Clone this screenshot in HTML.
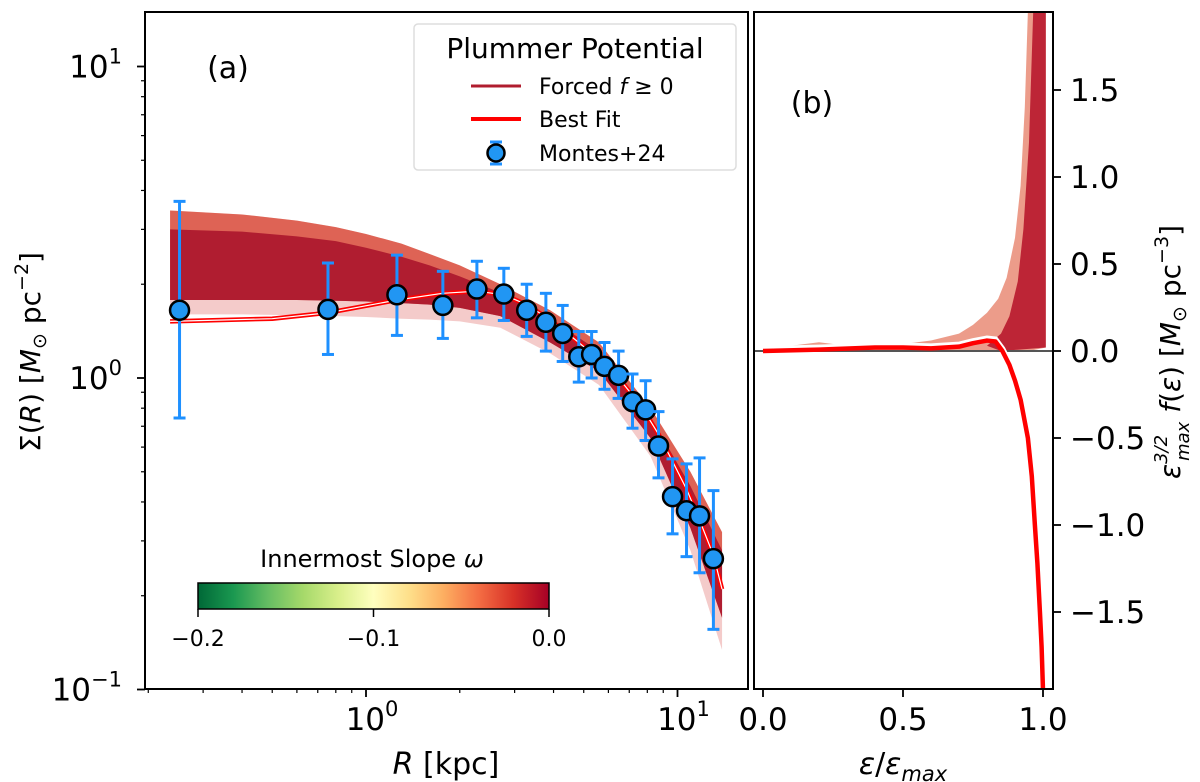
<!DOCTYPE html>
<html><head><meta charset="utf-8"><style>
html,body{margin:0;padding:0;background:#fff;}
svg{display:block;font-family:"DejaVu Sans","Liberation Sans",sans-serif;}
</style></head><body>
<svg id="chart" width="1200" height="782" viewBox="0 0 1200 782" xmlns="http://www.w3.org/2000/svg">
<defs>
<linearGradient id="cmap" x1="0" x2="1" y1="0" y2="0">
<stop offset="0" stop-color="#006837"/><stop offset="0.1" stop-color="#1a9850"/><stop offset="0.2" stop-color="#66bd63"/><stop offset="0.3" stop-color="#a6d96a"/><stop offset="0.4" stop-color="#d9ef8b"/><stop offset="0.5" stop-color="#ffffbf"/><stop offset="0.6" stop-color="#fee08b"/><stop offset="0.7" stop-color="#fdae61"/><stop offset="0.8" stop-color="#f46d43"/><stop offset="0.9" stop-color="#d73027"/><stop offset="1" stop-color="#a50026"/>
</linearGradient>
<clipPath id="clipL"><rect x="145" y="12" width="603" height="677"/></clipPath>
<clipPath id="clipR"><rect x="754" y="12" width="299" height="677"/></clipPath>
</defs>
<g id="left"></g>
<g id="right"></g>
</svg>
<script>
// ---- Panel (a) data ----
const obsR = [0.252,0.755,1.257,1.765,2.27,2.77,3.28,3.78,4.28,4.82,5.30,5.83,6.47,7.17,7.90,8.69,9.64,10.69,11.77,13.04];
const obsSigma = [1.65,1.66,1.85,1.71,1.93,1.86,1.65,1.51,1.39,1.17,1.19,1.09,1.02,0.84,0.79,0.605,0.416,0.375,0.361,0.263];
const obsUpper = [3.69,2.34,2.48,2.20,2.37,2.25,2.00,1.87,1.71,1.41,1.41,1.30,1.22,1.03,0.98,0.78,0.55,0.53,0.554,0.435];
const obsLower = [0.744,1.19,1.37,1.34,1.56,1.53,1.36,1.22,1.13,0.97,1.00,0.92,0.86,0.69,0.63,0.478,0.316,0.267,0.237,0.156];
const fitR = [0.235,0.5,0.755,1.26,1.76,2.27,2.77,3.28,3.78,4.28,4.82,5.3,5.83,6.47,7.17,7.9,8.69,9.64,10.69,11.77,13.04,13.9];
const fitSigma = [1.52,1.55,1.62,1.78,1.87,1.9,1.85,1.72,1.57,1.43,1.3,1.2,1.1,1.0,0.88,0.77,0.66,0.54,0.44,0.35,0.27,0.21];
const bandR = [0.235,0.4,0.6,0.8,1.0,1.3,1.6,2.0,2.7,3.9,5.6,8.2,11,13.9];
const bandUpper = [3.45,3.35,3.2,3.05,2.9,2.7,2.5,2.3,2.0,1.65,1.3,0.8,0.5,0.32];
const bandCoreUpper = [3.0,2.95,2.85,2.75,2.62,2.45,2.3,2.12,1.88,1.55,1.22,0.75,0.45,0.28];
const bandCoreLower = [1.78,1.78,1.78,1.77,1.76,1.74,1.72,1.68,1.58,1.3,1.05,0.64,0.33,0.17];
const bandLower = [1.6,1.6,1.59,1.58,1.57,1.55,1.54,1.52,1.45,1.2,0.95,0.56,0.28,0.134];
const xTicksL = [1,10];
const xTickLabelsL = ["0","1"];
const yTicksL = [0.1,1,10];
const yTickLabelsL = ["\u22121","0","1"];
// ---- Panel (b) data ----
const fitEps = [0,0.2,0.4,0.5,0.6,0.7,0.75,0.8,0.83,0.855,0.88,0.9,0.92,0.946,0.96,0.971,0.98,0.989,0.995,1.0];
const fitF = [0,0.008,0.02,0.02,0.015,0.025,0.045,0.06,0.055,0,-0.08,-0.17,-0.28,-0.5,-0.72,-1.0,-1.22,-1.5,-1.7,-1.95];
const ensEps = [0,0.1,0.2,0.3,0.5,0.6,0.7,0.75,0.8,0.84,0.87,0.9,0.92,0.935,0.946];
const ensUpper = [0.005,0.03,0.05,0.03,0.04,0.06,0.1,0.15,0.22,0.3,0.42,0.65,0.95,1.4,1.95];
const coreEps = [0.8,0.85,0.88,0.91,0.93,0.95,0.965];
const coreUpper = [0.03,0.1,0.2,0.4,0.7,1.2,1.95];
const xTicksR = [0,0.5,1.0];
const xTickLabelsR = ["0.0","0.5","1.0"];
const yTicksR = [-1.5,-1.0,-0.5,0,0.5,1.0,1.5];
const yTickLabelsR = ["\u22121.5","\u22121.0","\u22120.5","0.0","0.5","1.0","1.5"];
const cbTicks = [-0.2,-0.1,0.0];
const cbTickLabels = ["\u22120.2","\u22120.1","0.0"];

const NS="http://www.w3.org/2000/svg";
function mk(tag, attrs, parent){const e=document.createElementNS(NS,tag);for(const k in attrs)e.setAttribute(k,attrs[k]);parent.appendChild(e);return e;}
const xL=r=>366+311.5*Math.log10(r);
const yL=s=>378-311.5*Math.log10(s);
const xR=e=>763+280*e;
const yR=f=>351-174*f;
const L=document.getElementById('left'), Rg=document.getElementById('right');

// ---------- Panel a ----------
const gA=mk('g',{'clip-path':'url(#clipL)'},L);
function bandPoly(top,bot){let p=bandR.map((r,i)=>xL(r)+','+yL(top[i]));for(let i=bandR.length-1;i>=0;i--)p.push(xL(bandR[i])+','+yL(bot[i]));return p.join(' ');}
let e;
e=mk('polygon',{points:bandPoly(bandUpper,bandLower),fill:'#d9534f','fill-opacity':'0.3'},gA);

e=mk('polygon',{points:bandPoly(bandUpper,bandCoreLower),fill:'#d7402e','fill-opacity':'0.75'},gA);

e=mk('polygon',{points:bandPoly(bandCoreUpper,bandCoreLower),fill:'#a8102a','fill-opacity':'0.85'},gA);

const fitPts=fitR.map((r,i)=>xL(r)+','+yL(fitSigma[i])).join(' ');
e=mk('polyline',{points:fitPts,fill:'none',stroke:'#ff0000','stroke-width':'4.5','stroke-linejoin':'round'},gA);

e=mk('polyline',{points:fitPts,fill:'none',stroke:'#ffffff','stroke-width':'1.2'},gA);

obsR.forEach((r,i)=>{
  const x=xL(r);
  const g=mk('g',{},L);
  
  
  mk('line',{x1:x,x2:x,y1:yL(obsUpper[i]),y2:yL(obsLower[i]),stroke:'#1e90ff','stroke-width':'3'},g);
  mk('line',{x1:x-6,x2:x+6,y1:yL(obsUpper[i]),y2:yL(obsUpper[i]),stroke:'#1e90ff','stroke-width':'3'},g);
  mk('line',{x1:x-6,x2:x+6,y1:yL(obsLower[i]),y2:yL(obsLower[i]),stroke:'#1e90ff','stroke-width':'3'},g);
  mk('circle',{cx:x,cy:yL(obsSigma[i]),r:'9.5',fill:'#2196f3',stroke:'#000','stroke-width':'2.5'},g);
});
e=mk('rect',{x:145,y:12,width:603,height:677,fill:'none',stroke:'#000','stroke-width':'2'},L);

for(let d=-1;d<=1;d++){for(let k=1;k<=9;k++){const v=k*Math.pow(10,d);const y=yL(v);if(y<12||y>690)continue;
  mk('line',{x1:145,x2:145-(k===1?8:4),y1:y,y2:y,stroke:'#000','stroke-width':k===1?'1.8':'1.2'},L);}}
yTicksL.forEach((v,i)=>{const t=mk('text',{x:122,y:yL(v)+11,'text-anchor':'end','font-size':'31'},L);
  
  t.textContent='10';const s=mk('tspan',{dy:'-14','font-size':'21'},t);s.textContent=yTickLabelsL[i];});
for(let d=-1;d<=1;d++){for(let k=1;k<=9;k++){const v=k*Math.pow(10,d);const x=xL(v);if(x<145||x>748)continue;
  mk('line',{x1:x,x2:x,y1:689,y2:689+(k===1?8:4),stroke:'#000','stroke-width':k===1?'1.8':'1.2'},L);}}
xTicksL.forEach((v,i)=>{const t=mk('text',{x:xL(v)+6,y:730,'text-anchor':'middle','font-size':'31'},L);
  
  t.textContent='10';const s=mk('tspan',{dy:'-14','font-size':'21'},t);s.textContent=xTickLabelsL[i];});

// ---------- Panel b ----------
const gB=mk('g',{'clip-path':'url(#clipR)'},Rg);
let p=ensEps.map((x,i)=>xR(x)+','+yR(ensUpper[i]));p.push(xR(1.01)+','+yR(1.95),xR(1.01)+','+yR(0.02),xR(0.95)+','+yR(0),xR(0)+','+yR(0));
e=mk('polygon',{points:p.join(' '),fill:'#e05a3c','fill-opacity':'0.6'},gB);

let c=coreEps.map((x,i)=>xR(x)+','+yR(coreUpper[i]));c.push(xR(1.01)+','+yR(1.95),xR(1.01)+','+yR(0.02),xR(0.85)+','+yR(0));
e=mk('polygon',{points:c.join(' '),fill:'#b8182c','fill-opacity':'0.9'},gB);

e=mk('line',{x1:754,x2:1053,y1:yR(0),y2:yR(0),stroke:'#555','stroke-width':'2'},gB);

e=mk('polyline',{points:fitEps.map((x,i)=>xR(x)+','+(yR(fitF[i])-2)).join(' '),fill:'none',stroke:'#fff','stroke-width':'6'},gB);

e=mk('polyline',{points:fitEps.map((x,i)=>xR(x)+','+yR(fitF[i])).join(' '),fill:'none',stroke:'#ff0000','stroke-width':'4.5','stroke-linejoin':'round'},gB);

e=mk('rect',{x:754,y:12,width:299,height:677,fill:'none',stroke:'#000','stroke-width':'2'},Rg);

yTicksR.forEach((v,i)=>{const y=yR(v);mk('line',{x1:1053,x2:1061,y1:y,y2:y,stroke:'#000','stroke-width':'1.8'},Rg);
  const t=mk('text',{x:1070,y:y+11,'font-size':'31'},Rg);
  
  t.textContent=yTickLabelsR[i];});
xTicksR.forEach((v,i)=>{const x=xR(v);mk('line',{x1:x,x2:x,y1:689,y2:697,stroke:'#000','stroke-width':'1.8'},Rg);
  const t=mk('text',{x:x,y:730,'text-anchor':'middle','font-size':'31'},Rg);
  
  t.textContent=xTickLabelsR[i];});

// ---------- static decorations ----------
const svg=document.getElementById('chart');
const frag=`
<g>
<text x="372" y="567" text-anchor="middle" font-size="24">Innermost Slope <tspan font-style="italic">ω</tspan></text>
<rect x="198" y="583" width="351" height="26" fill="url(#cmap)" stroke="#000" stroke-width="1.5"/>
</g>
<text x="228" y="78" text-anchor="middle" font-size="30">(a)</text>
<text x="812" y="113" text-anchor="middle" font-size="30">(b)</text>
<g>
<rect x="414" y="24" width="322" height="146" rx="4" fill="#fff" fill-opacity="0.85" stroke="#ddd" stroke-width="1.5"/>
<text x="575" y="58" text-anchor="middle" font-size="28">Plummer Potential</text>
<line x1="471" x2="521" y1="86" y2="86" stroke="#b01c2e" stroke-width="3"/>
<text x="539" y="94" font-size="22">Forced <tspan font-style="italic">f</tspan> ≥ 0</text>
<line x1="471" x2="521" y1="119" y2="119" stroke="#ff0000" stroke-width="4"/>
<text x="539" y="127" font-size="22">Best Fit</text>
<g><line x1="496" x2="496" y1="142" y2="164" stroke="#1e90ff" stroke-width="3"/><line x1="490" x2="502" y1="142" y2="142" stroke="#1e90ff" stroke-width="3"/><line x1="490" x2="502" y1="164" y2="164" stroke="#1e90ff" stroke-width="3"/><circle cx="496" cy="153" r="8.5" fill="#2196f3" stroke="#000" stroke-width="2.5"/></g>
<text x="539" y="161" font-size="22">Montes+24</text>
</g>
<text x="446" y="774" text-anchor="middle" font-size="30"><tspan font-style="italic">R</tspan> [kpc]</text>
<text x="903" y="774" text-anchor="middle" font-size="30"><tspan font-style="italic">ε</tspan>/<tspan font-style="italic">ε</tspan><tspan font-style="italic" font-size="21" dy="7">max</tspan></text>
<text transform="translate(40,352) rotate(-90)" text-anchor="middle" font-size="28">Σ(<tspan font-style="italic">R</tspan>) [<tspan font-style="italic">M</tspan><tspan font-size="19" dy="6">⊙</tspan><tspan dy="-6"> pc</tspan><tspan font-size="19" dy="-12">−2</tspan><tspan dy="12">]</tspan></text>
<text transform="translate(1180,352) rotate(-90)" text-anchor="middle" font-size="28"><tspan font-style="italic">ε</tspan><tspan font-size="18" dy="-13" font-style="italic">3/2</tspan><tspan font-size="18" dx="-26" dy="22" font-style="italic">max</tspan><tspan dy="-9"> </tspan><tspan font-style="italic">f</tspan>(<tspan font-style="italic">ε</tspan>) [<tspan font-style="italic">M</tspan><tspan font-size="19" dy="6">⊙</tspan><tspan dy="-6"> pc</tspan><tspan font-size="19" dy="-12">−3</tspan><tspan dy="12">]</tspan></text>
<g id="cbar"></g>`;
const tmp=document.createElementNS(NS,'g');
tmp.innerHTML=frag;
while(tmp.firstChild) svg.appendChild(tmp.firstChild);
const cb=document.getElementById('cbar');
const xC=v=>198+(v+0.2)/0.2*351;
cbTicks.forEach((v,i)=>{const x=xC(v);mk('line',{x1:x,x2:x,y1:609,y2:617,stroke:'#000','stroke-width':'1.5'},cb);
  const t=mk('text',{x:x,y:646,'text-anchor':'middle','font-size':'22'},cb);
  
  
  t.textContent=cbTickLabels[i];});
</script>
</body></html>
